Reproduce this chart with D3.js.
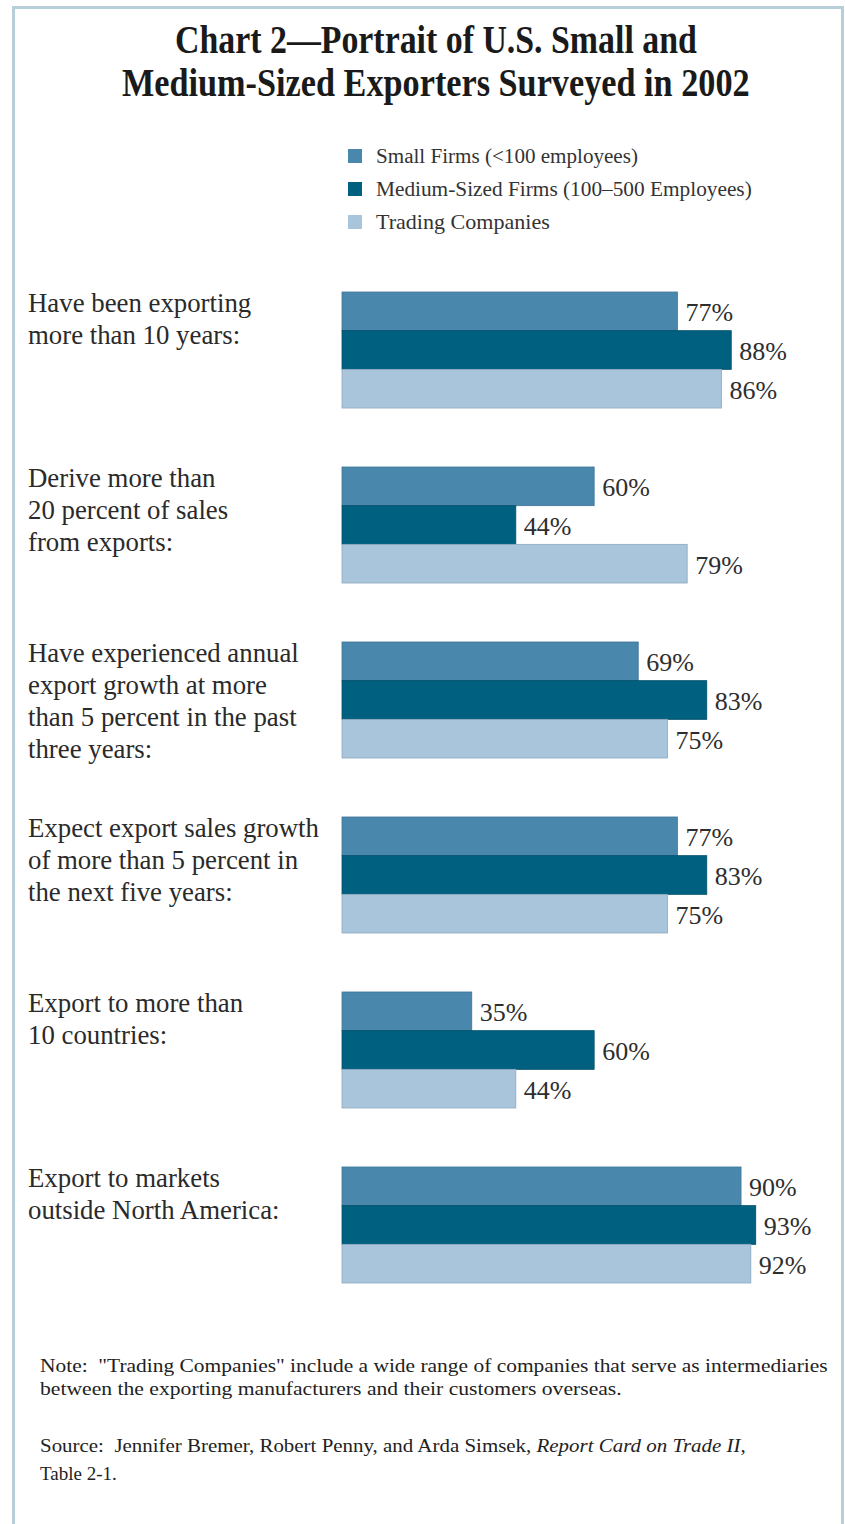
<!DOCTYPE html>
<html>
<head>
<meta charset="utf-8">
<script src="https://cdn.jsdelivr.net/npm/d3@7"></script>
<style>
  html, body { margin: 0; padding: 0; background: #ffffff; }
  svg { display: block; }
  text { font-family: "Liberation Serif", "DejaVu Serif", serif; fill: #222; white-space: pre; }
</style>
</head>
<body>
<svg id="chart" width="845" height="1524"></svg>
<script>
// Survey categories (label lines for each group)
const categories = [
  "Have been exporting more than 10 years:",
  "Derive more than 20 percent of sales from exports:",
  "Have experienced annual export growth at more than 5 percent in the past three years:",
  "Expect export sales growth of more than 5 percent in the next five years:",
  "Export to more than 10 countries:",
  "Export to markets outside North America:"
];
const categoryLines = [
  ["Have been exporting", "more than 10 years:"],
  ["Derive more than", "20 percent of sales", "from exports:"],
  ["Have experienced annual", "export growth at more", "than 5 percent in the past", "three years:"],
  ["Expect export sales growth", "of more than 5 percent in", "the next five years:"],
  ["Export to more than", "10 countries:"],
  ["Export to markets", "outside North America:"]
];

// Series
const seriesNames = [
  "Small Firms (<100 employees)",
  "Medium-Sized Firms (100–500 Employees)",
  "Trading Companies"
];
const smallFirms   = [77, 60, 69, 77, 35, 90];
const mediumFirms  = [88, 44, 83, 83, 60, 93];
const tradingCos   = [86, 79, 75, 75, 44, 92];
const seriesValues = [smallFirms, mediumFirms, tradingCos];

const titleLines = [
  "Chart 2—Portrait of U.S. Small and",
  "Medium-Sized Exporters Surveyed in 2002"
];
const noteLines = [
  "Note:  \"Trading Companies\" include a wide range of companies that serve as intermediaries",
  "between the exporting manufacturers and their customers overseas."
];

const colors = ["#4a87ad", "#00607f", "#a8c5dc"];
const strokes = ["#3f7598", "#004e69", "#8ea9be"];

const svg = d3.select("#chart");

// Outer frame (open at the bottom)
svg.append("path")
  .attr("d", "M13.5,1524 V7.5 H842.5 V1524")
  .attr("fill", "none")
  .attr("stroke", "#b7cfd8")
  .attr("stroke-width", 3);

// Place a text at (x, y) and squeeze it horizontally to a given width
function placeFitted(sel, x0, y0, width) {
  const len = sel.node().getComputedTextLength();
  const k = len > 0 ? width / len : 1;
  sel.attr("x", 0).attr("y", 0)
    .attr("transform", `translate(${x0},${y0}) scale(${k},1)`);
}

// Title
const titleWidths = [522, 628];
svg.append("g").selectAll("text")
  .data(titleLines)
  .join("text")
  .attr("font-size", 40)
  .attr("font-weight", "bold")
  .style("fill", "#1a1a1a")
  .text(d => d)
  .each(function(d, i) {
    placeFitted(d3.select(this), 436 - titleWidths[i] / 2, 53 + i * 43, titleWidths[i]);
  });

// Legend
const legend = svg.append("g");
const legendWidths = [262, 376, 174];
seriesNames.forEach((name, i) => {
  const cy = 156 + i * 33;
  legend.append("rect")
    .attr("x", 348).attr("y", cy - 7)
    .attr("width", 14).attr("height", 14)
    .attr("fill", colors[i]);
  const t = legend.append("text")
    .attr("font-size", 20)
    .style("fill", "#333")
    .text(name);
  placeFitted(t, 376, cy + 7, legendWidths[i]);
});

// Scales
const y0 = d3.scaleBand()
  .domain(categories)
  .range([292, 1283])
  .paddingInner(0.337)
  .paddingOuter(0);

const y1 = d3.scaleBand()
  .domain(seriesNames)
  .range([0, y0.bandwidth()]);

const x = d3.scaleLinear()
  .domain([8.5, 100])
  .range([342, 790]);
const xBase = x.domain()[0];

// Groups of bars
const groups = svg.append("g").selectAll("g")
  .data(categories)
  .join("g")
  .attr("transform", d => `translate(0,${y0(d)})`);

groups.each(function(cat, ci) {
  const g = d3.select(this);
  const rows = seriesNames.map((s, si) => ({ s, si, v: seriesValues[si][ci] }));

  g.selectAll("rect")
    .data(rows)
    .join("rect")
    .attr("x", x(xBase))
    .attr("y", d => y1(d.s))
    .attr("width", d => x(d.v) - x(xBase))
    .attr("height", y1.bandwidth())
    .attr("fill", d => colors[d.si])
    .attr("stroke", d => strokes[d.si])
    .attr("stroke-width", 0.8);

  g.selectAll("text.value")
    .data(rows)
    .join("text")
    .attr("class", "value")
    .attr("x", d => x(d.v) + 8)
    .attr("y", d => y1(d.s) + y1.bandwidth() / 2 + 10)
    .attr("font-size", 26)
    .style("fill", "#2e2e2e")
    .text(d => d.v + "%");

  // Category label on the left
  g.selectAll("text.cat")
    .data(categoryLines[ci])
    .join("text")
    .attr("class", "cat")
    .attr("x", 28)
    .attr("y", (d, i) => 20 + i * 32)
    .attr("font-size", 26.8)
    .style("fill", "#2a2a2a")
    .text(d => d);
});

// Note and source
const foot = svg.append("g").style("fill", "#222");
foot.selectAll("text.note")
  .data(noteLines)
  .join("text")
  .attr("class", "note")
  .attr("font-size", 19)
  .text(d => d)
  .each(function(d, i) {
    placeFitted(d3.select(this), 40, 1372 + i * 23, [788, 582][i]);
  });

const src1 = foot.append("text")
  .attr("font-size", 19);
src1.append("tspan").text("Source:  Jennifer Bremer, Robert Penny, and Arda Simsek, ");
src1.append("tspan").attr("font-style", "italic").text("Report Card on Trade II");
src1.append("tspan").text(",");
placeFitted(src1, 40, 1452, 706);

foot.append("text")
  .attr("x", 40).attr("y", 1480)
  .attr("font-size", 19)
  .text("Table 2-1.");
</script>
</body>
</html>
